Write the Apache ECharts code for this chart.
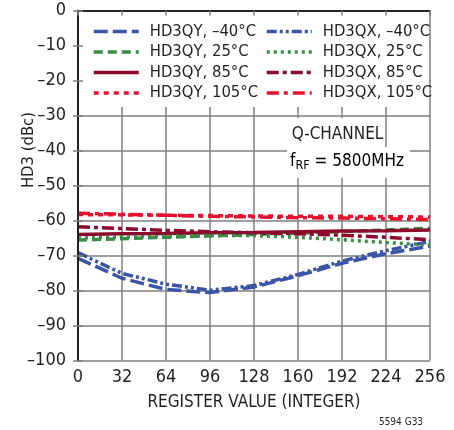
<!DOCTYPE html>
<html><head><meta charset="utf-8">
<script src="https://cdn.jsdelivr.net/npm/echarts@6/dist/echarts.min.js"></script>
<style>html,body{margin:0;padding:0;background:#fff}#c{width:454px;height:430px}</style>
</head><body><div id="c"></div>
<script>
const registers = [0, 32, 64, 96, 128, 160, 192, 224, 256];
const xTicks = ['0','32','64','96','128','160','192','224','256'];
const yTicks = ['0','–10','–20','–30','–40','–50','–60','–70','–80','–90','–100'];
const hd3qyM40 = [-70.8, -76.5, -79.7, -80.6, -79.0, -75.8, -72.2, -69.5, -67.3];
const hd3qxM40 = [-69.2, -75.1, -78.2, -79.9, -78.6, -75.4, -71.6, -68.6, -66.0];
const hd3qy25 = [-65.6, -65.2, -64.8, -64.4, -64.0, -63.6, -63.2, -62.7, -62.2];
const hd3qx25 = [-65.0, -64.8, -64.5, -64.3, -64.3, -64.8, -65.5, -66.3, -67.0];
const hd3qy85 = [-64.0, -63.8, -63.7, -63.5, -63.4, -63.2, -63.0, -62.9, -62.7];
const hd3qx85 = [-61.8, -62.3, -62.8, -63.2, -63.5, -63.8, -64.2, -64.8, -65.5];
const hd3qy105 = [-58.3, -58.4, -58.5, -58.6, -58.7, -58.8, -58.8, -58.9, -59.0];
const hd3qx105 = [-57.9, -58.2, -58.5, -58.8, -59.0, -59.2, -59.3, -59.5, -59.7];

const FONT = "'DejaVu Sans Condensed', 'Liberation Sans Narrow', sans-serif";
const TXT = '#231f20';
const BLUE = '#3b55a6', GREEN = '#3a8c46', DRED = '#8c0b2c', RED = '#e8112d';

function pts(arr){ return registers.map((r,i)=>[r, arr[i]]); }
function mk(name, arr, color, type){
  return {name, type:'line', data: pts(arr), symbol:'none', showSymbol:false, z:2,
    lineStyle:{color, width:3.5, type}, itemStyle:{color}};
}
const series = [
  mk('HD3QY, –40°C', hd3qyM40, BLUE, [14,5]),
  mk('HD3QY, 25°C', hd3qy25, GREEN, [9,5]),
  mk('HD3QY, 85°C', hd3qy85, DRED, 'solid'),
  mk('HD3QY, 105°C', hd3qy105, RED, [5,5]),
  mk('HD3QX, –40°C', hd3qxM40, BLUE, [10,3,3,3,3,3]),
  mk('HD3QX, 25°C', hd3qx25, GREEN, [3,4]),
  mk('HD3QX, 85°C', hd3qx85, DRED, [12,4,4,4]),
  mk('HD3QX, 105°C', hd3qx105, RED, [12,5,4,5])
];

const chart = echarts.init(document.getElementById('c'), null, {renderer:'canvas'});
const axisLine = {show:true, lineStyle:{color:TXT, width:1.5}};
const legendBase = {orient:'vertical', itemWidth:45, itemHeight:14, itemGap:3.5,
  itemStyle:{opacity:0}, lineStyle:{width:3.5},
  textStyle:{fontFamily:FONT, fontSize:16.5, color:TXT, padding:[0,0,0,6]}, z:6};
chart.setOption({
  animation:false,
  grid:{left:78, right:24, top:10.5, bottom:69.5},
  xAxis:[
    {type:'value', min:0, max:256, interval:32, position:'bottom', z:0,
     axisLine, axisTick:{show:false},
     axisLabel:{fontFamily:FONT, fontSize:18, color:TXT, margin:8, formatter:(v)=>xTicks[registers.indexOf(v)]},
     splitLine:{show:true, lineStyle:{color:'#7f7f7f', width:1.5}},
     name:'REGISTER VALUE (INTEGER)', nameLocation:'middle', nameGap:34,
     nameTextStyle:{fontFamily:FONT, fontSize:17, color:TXT}},
    {type:'value', min:0, max:256, interval:32, position:'top', z:10,
     axisLine, axisLabel:{show:false}, splitLine:{show:false},
     axisTick:{show:true, inside:true, length:5, lineStyle:{color:'#7f7f7f', width:1.5}}}
  ],
  yAxis:[
    {type:'value', min:-100, max:0, interval:10, position:'left', z:0,
     axisLine, axisTick:{show:false},
     axisLabel:{fontFamily:FONT, fontSize:18, color:TXT, margin:12, formatter:(v)=>yTicks[Math.round(-v/10)]},
     splitLine:{show:true, lineStyle:{color:'#7f7f7f', width:1.5}}},
    {type:'value', min:-100, max:0, interval:10, position:'right', z:10,
     axisLine, axisLabel:{show:false}, splitLine:{show:false},
     axisTick:{show:true, inside:true, length:5, lineStyle:{color:'#7f7f7f', width:1.5}}},
    {type:'value', min:-100, max:0, interval:10, position:'left', z:10,
     axisLine, axisLabel:{show:false}, splitLine:{show:false},
     axisTick:{show:true, inside:true, length:5, lineStyle:{color:'#7f7f7f', width:1.5}}}
  ],
  legend:[
    Object.assign({}, legendBase, {left:87, top:18, data:['HD3QY, –40°C','HD3QY, 25°C','HD3QY, 85°C','HD3QY, 105°C']}),
    Object.assign({}, legendBase, {left:260, top:18, data:['HD3QX, –40°C','HD3QX, 25°C','HD3QX, 85°C','HD3QX, 105°C']})
  ],
  graphic:[
    {type:'rect', z:1, shape:{x:79, y:12, width:350, height:95}, style:{fill:'#fff'}},
    {type:'rect', z:1, shape:{x:290, y:118, width:95, height:29}, style:{fill:'#fff'}},
    {type:'rect', z:1, shape:{x:287, y:147, width:123, height:31}, style:{fill:'#fff'}},
    {type:'text', z:3, x:337.5, y:135, style:{text:'Q-CHANNEL', fontFamily:FONT, fontSize:17, fill:TXT, align:'center', verticalAlign:'middle'}},
    {type:'text', z:3, x:347, y:162, style:{text:'{a|f}{s|RF}{a| = 5800MHz}', align:'center', verticalAlign:'middle',
      rich:{a:{fontFamily:FONT, fontSize:17, color:TXT}, s:{fontFamily:FONT, fontSize:12.5, color:TXT, padding:[8,0,0,0]}}}},
    {type:'text', z:3, x:29, y:150, rotation:Math.PI/2, style:{text:'HD3 (dBc)', fontFamily:FONT, fontSize:16.5, fill:TXT, align:'center', verticalAlign:'middle'}},
    {type:'text', z:3, x:401, y:422, style:{text:'5594 G33', fontFamily:FONT, fontSize:10, fill:TXT, align:'center', verticalAlign:'middle'}}
  ],
  series
});
</script></body></html>
